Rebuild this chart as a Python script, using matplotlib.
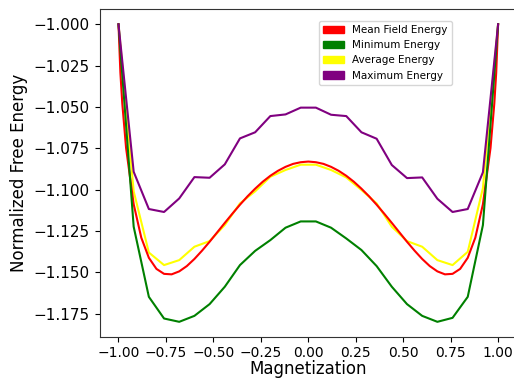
import matplotlib
matplotlib.use("Agg")
import matplotlib.pyplot as plt
import matplotlib.patches as mpatches

# magnetization grid for the sampled energies
magnetization = [-1.00, -0.92, -0.84, -0.76, -0.68, -0.60, -0.52, -0.44, -0.36,
                 -0.28, -0.20, -0.12, -0.04, 0.04, 0.12, 0.20, 0.28, 0.36,
                 0.44, 0.52, 0.60, 0.68, 0.76, 0.84, 0.92, 1.00]

min_energy = [-1.000, -1.1224, -1.1648, -1.1779, -1.1799, -1.1763, -1.1692,
              -1.1587, -1.1456, -1.1370, -1.1305, -1.1230, -1.1192, -1.1192,
              -1.1230, -1.1295, -1.1365, -1.1462, -1.1587, -1.1692, -1.1763,
              -1.1799, -1.1775, -1.1648, -1.1214, -1.000]

avg_energy = [-1.000, -1.1010, -1.1380, -1.1456, -1.1426, -1.1345, -1.1311,
              -1.1214, -1.1083, -1.1010, -1.0922, -1.0881, -1.0849, -1.0849,
              -1.0881, -1.0926, -1.1002, -1.1083, -1.1224, -1.1311, -1.1345,
              -1.1426, -1.1456, -1.1376, -1.0990, -1.000]

max_energy = [-1.000, -1.0892, -1.1117, -1.1135, -1.1053, -1.0924, -1.0928,
              -1.0847, -1.0690, -1.0653, -1.0555, -1.0545, -1.0504, -1.0504,
              -1.0547, -1.0555, -1.0653, -1.0692, -1.0851, -1.0930, -1.0926,
              -1.1055, -1.1135, -1.1117, -1.0895, -1.000]

# mean field curve (finer grid)
mf_m = [-1.00, -0.99, -0.98, -0.96, -0.92, -0.88, -0.84, -0.80, -0.76, -0.72,
        -0.68, -0.64, -0.60, -0.56, -0.52, -0.48, -0.44, -0.40, -0.36, -0.32,
        -0.28, -0.24, -0.20, -0.16, -0.12, -0.08, -0.04, 0.00, 0.04, 0.08,
        0.12, 0.16, 0.20, 0.24, 0.28, 0.32, 0.36, 0.40, 0.44, 0.48, 0.52,
        0.56, 0.60, 0.64, 0.68, 0.72, 0.76, 0.80, 0.84, 0.88, 0.92, 0.96,
        0.98, 0.99, 1.00]
mf_energy = [-1.0000, -1.0293, -1.0479, -1.0748, -1.1088, -1.1290, -1.1412,
             -1.1479, -1.1509, -1.1512, -1.1494, -1.1462, -1.1419, -1.1369,
             -1.1315, -1.1258, -1.1201, -1.1145, -1.1091, -1.1040, -1.0994,
             -1.0952, -1.0916, -1.0886, -1.0862, -1.0844, -1.0834, -1.0830,
             -1.0834, -1.0844, -1.0862, -1.0886, -1.0916, -1.0952, -1.0994,
             -1.1040, -1.1091, -1.1145, -1.1201, -1.1258, -1.1315, -1.1369,
             -1.1419, -1.1462, -1.1494, -1.1512, -1.1509, -1.1479, -1.1412,
             -1.1290, -1.1088, -1.0748, -1.0479, -1.0293, -1.0000]

fig = plt.figure(figsize=(5.14, 3.81), dpi=100)
# right spine sits just past the image edge, as in the original crop
ax = fig.add_axes([0.1936, 0.1163, 0.8124, 0.859])

ax.plot(magnetization, avg_energy, color='yellow')
ax.plot(mf_m, mf_energy, color='red')
ax.plot(magnetization, min_energy, color='green')
ax.plot(magnetization, max_energy, color='purple')

for s in ax.spines.values():
    s.set_color('#333333')

ax.set_xticks([-1.0, -0.75, -0.5, -0.25, 0.0, 0.25, 0.5, 0.75, 1.0])
ax.tick_params(axis='x', labelsize=10)
ax.tick_params(axis='y', labelsize=11)
ax.set_xlabel('Magnetization', fontsize=12, labelpad=0)
ax.set_ylabel('Normalized Free Energy', fontsize=12)

handles = [mpatches.Patch(color='red', label='Mean Field Energy'),
           mpatches.Patch(color='green', label='Minimum Energy'),
           mpatches.Patch(color='yellow', label='Average Energy'),
           mpatches.Patch(color='purple', label='Maximum Energy')]
ax.legend(handles=handles, loc='upper left', bbox_to_anchor=(0.525, 0.965),
          borderaxespad=0, fontsize=7.5)

fig.savefig('out.png')
